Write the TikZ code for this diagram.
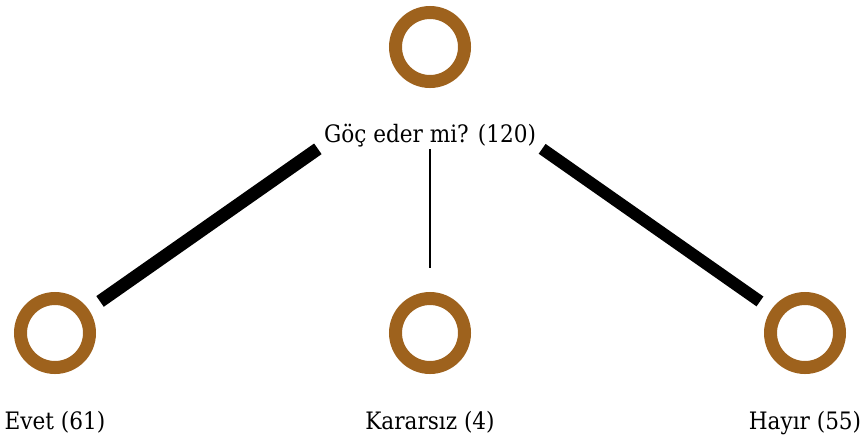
\documentclass[tikz,border=0pt]{standalone}
\usepackage{fontspec}
\setmainfont{DejaVu Serif Condensed}
\definecolor{ringbrown}{RGB}{158,98,29}
\begin{document}
\begin{tikzpicture}[x=1pt,y=-1pt,
ring/.style = {draw=ringbrown,circle,line width=13pt,minimum size=69pt,inner sep=0pt},
lbl/.style = {anchor=base,font=\fontsize{24}{28}\selectfont,inner xsep=6pt,inner ysep=2pt},
vote/.style = {line width=#1,black}
]
  \useasboundingbox (0,0) rectangle (862,440);
  \node[ring] (top) at (430,47) {};
  \node[ring] (evet) at (55,333) {};
  \node[ring] (kararsiz) at (430,333) {};
  \node[ring] (hayir) at (805,333) {};

  \node[lbl] (q) at (430,142) {Göç eder mi? (120)};
  \node[lbl] (levet) at (55,429) {Evet (61)};
  \node[lbl] (lkararsiz) at (430,429) {Kararsız (4)};
  \node[lbl] (lhayir) at (805,429) {Hayır (55)};

  \draw[vote=13pt,shorten >=14pt] (q.south west) -- (evet);
  \draw[vote=2.5pt,shorten >=24.5pt] (q.south) -- (kararsiz);
  \draw[vote=12pt,shorten >=14pt] (q.south east) -- (hayir);
\end{tikzpicture}
\end{document}
